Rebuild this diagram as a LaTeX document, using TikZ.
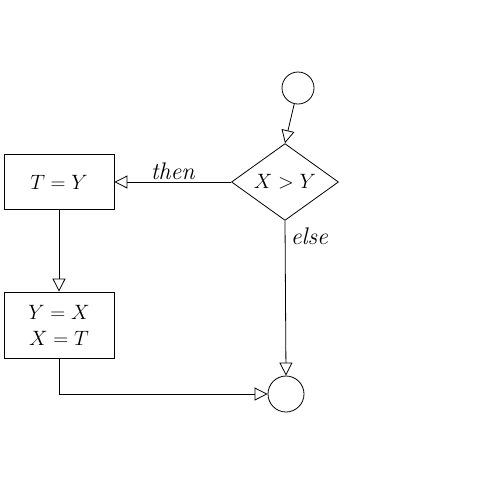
\documentclass[tikz,border=0pt]{standalone}
\usetikzlibrary{arrows.meta,shapes.geometric}
\begin{document}
\begin{tikzpicture}[x=1pt,y=-1pt,line width=.8pt,
  every node/.style={font=\fontsize{21}{26}\selectfont},
  lbl/.style={font=\fontsize{24}{28}\selectfont\itshape},
  flow/.style={-{Triangle[open,length=13pt,width=13pt]}},
  stepbox/.style={draw,minimum width=110pt,minimum height=55pt,align=center},
  test/.style={draw,diamond,inner sep=0pt,minimum width=107pt,minimum height=73pt},
  terminal/.style={draw,circle,inner sep=0pt}]
  \useasboundingbox (0,0) rectangle (489,480);
  % nodes
  \node [terminal,minimum size=32pt] (start) at (298,88) {};
  \node [test] (cond) at (285,182) {$X > Y$};
  \node [stepbox] (swapone) at (59,182) {$T = Y$};
  \node [stepbox,minimum height=66pt] (swaptwo) at (59,325) {$Y = X$\\$X = T$};
  \node [terminal,minimum size=36pt] (stop) at (286,394) {};
  % connectors
  \draw [flow] (cond.west) -- node [above=-1pt,lbl] {then} (swapone.east);
  \draw [flow] (start) -- (cond.north);
  \draw [flow] (swapone) -- (swaptwo);
  \draw [flow] (cond.south) -- node [pos=.1,right=2pt,lbl] {else} (stop.north);
  \draw [flow] (swaptwo.south) |- (stop.west);
\end{tikzpicture}
\end{document}
